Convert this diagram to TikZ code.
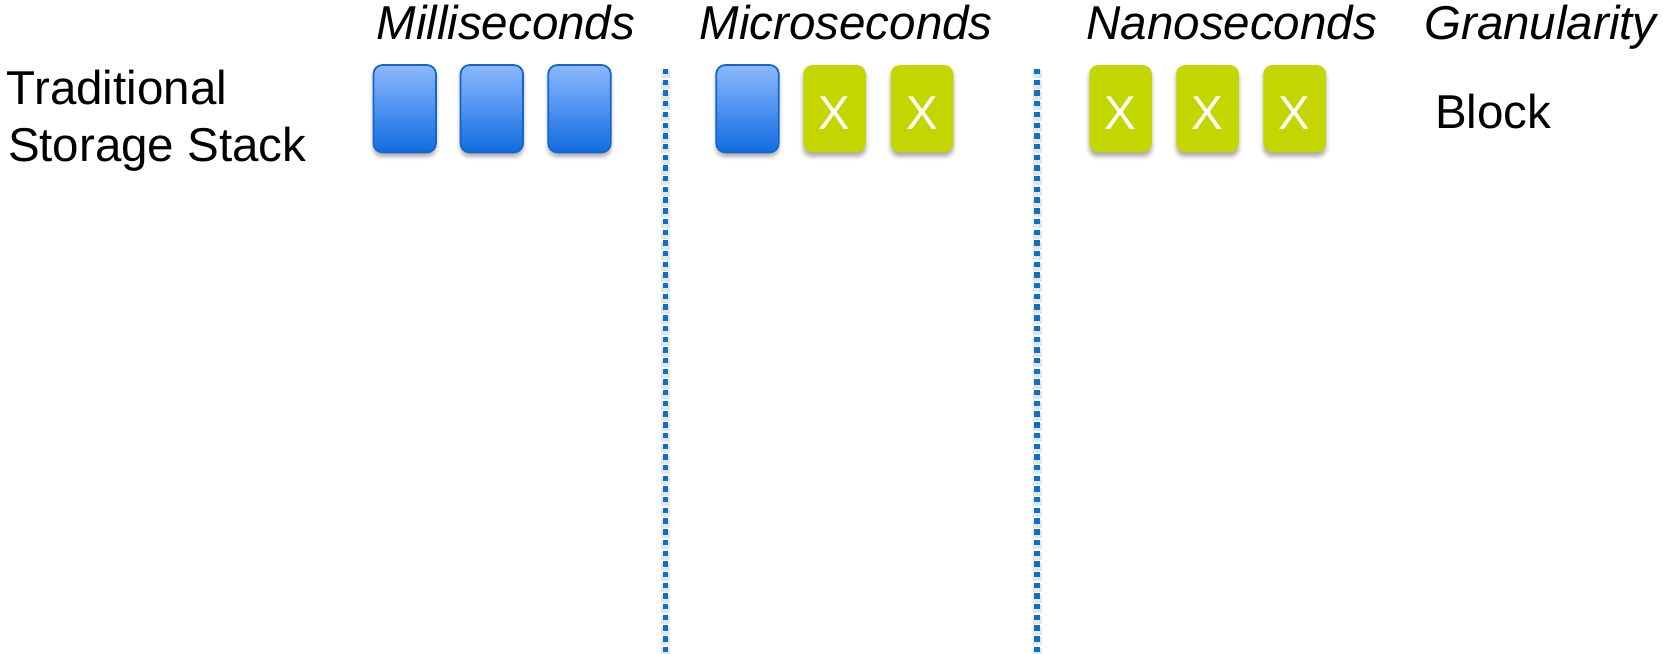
\documentclass[tikz,border=0pt]{standalone}
\usepackage{fontspec}
\setmainfont{Liberation Sans}
\usetikzlibrary{shadows.blur}
\definecolor{slowtop}{RGB}{140,184,255}
\definecolor{slowmid}{RGB}{88,148,240}
\definecolor{slowbot}{RGB}{16,108,224}
\definecolor{slowedge}{RGB}{20,102,205}
\definecolor{fastfill}{RGB}{196,214,0}
\definecolor{divider}{RGB}{10,112,200}
% the cross sits a little below the cell centre; keep the box size unchanged
\newcommand{\cellmark}{\raisebox{-3.5bp}[34bp][0pt]{X}}
\begin{document}
\begin{tikzpicture}[x=1bp,y=-1bp,
  every node/.style={inner sep=0pt, font=\fontsize{47.5bp}{57bp}\selectfont},
  cell/.style={minimum width=62.5bp, minimum height=87.3bp, rounded corners=9bp,
    blur shadow={shadow xshift=0bp, shadow yshift=-4bp, shadow blur radius=4bp, shadow opacity=35}},
  slow/.style={cell, draw=slowedge, line width=1.8bp,
    top color=slowtop, middle color=slowmid, bottom color=slowbot},
  fast/.style={cell, fill=fastfill, text=white},
  head/.style={anchor=base, font=\fontsize{47.5bp}{57bp}\selectfont\itshape},
  label/.style={anchor=base},
  divline/.style={draw=divider, line width=5.4bp, dash pattern=on 5.4bp off 5.3bp},
  divglow/.style={draw=black, opacity=0.10, line width=9bp, dash pattern=on 8bp off 2.7bp}]
  \useasboundingbox (0,0) rectangle (1663,654);

  % column headings
  \node[head] (hms) at (505.8,39.3) {Milliseconds};
  \node[head] (hus) at (846.2,39.3) {Microseconds};
  \node[head] (hns) at (1231.7,39.3) {Nanoseconds};
  \node[head] (hgr) at (1540.5,39.3) {Granularity};

  % row label
  \node[label] (row1) at (117,105) {Traditional};
  \node[label] (row2) at (157.2,161.7) {Storage Stack};

  % dotted dividers between latency ranges
  \coordinate (d1top) at (665.7,69);
  \coordinate (d1bot) at (665.7,654);
  \coordinate (d2top) at (1037,69);
  \coordinate (d2bot) at (1037,654);
  \draw[divglow] ([yshift=-1.3bp]d1top) -- (d1bot);
  \draw[divglow] ([yshift=-1.3bp]d2top) -- (d2bot);
  \draw[divline] (d1top) -- (d1bot);
  \draw[divline] (d2top) -- (d2bot);

  % milliseconds
  \node[slow] (ms1) at (404.7,108.7) {};
  \node[slow] (ms2) at (491.8,108.7) {};
  \node[slow] (ms3) at (579.5,108.7) {};

  % microseconds
  \node[slow] (us1) at (747.5,108.7) {};
  \node[fast] (us2) at (834.5,108.7) {\cellmark};
  \node[fast] (us3) at (922,108.7) {\cellmark};

  % nanoseconds
  \node[fast] (ns1) at (1120.5,108.7) {\cellmark};
  \node[fast] (ns2) at (1207.5,108.7) {\cellmark};
  \node[fast] (ns3) at (1294.7,108.7) {\cellmark};

  % granularity
  \node[label] (gran) at (1493.3,128.3) {Block};
\end{tikzpicture}
\end{document}
